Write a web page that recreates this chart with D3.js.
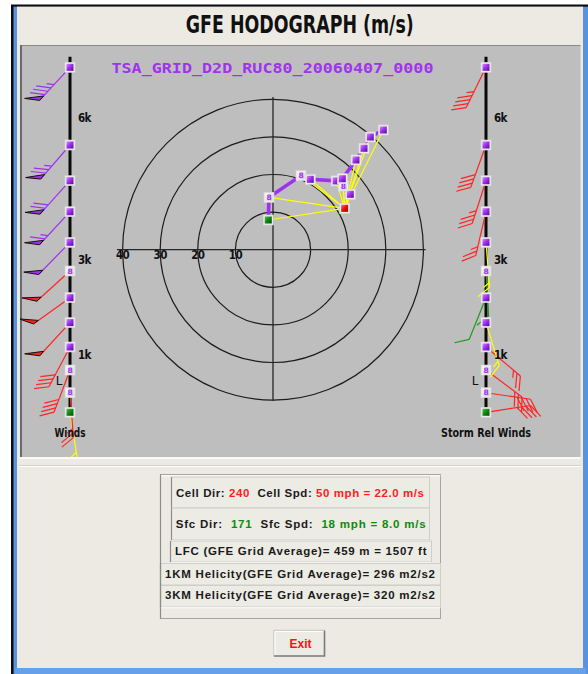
<!DOCTYPE html>
<html><head><meta charset="utf-8">
<script src="https://cdn.jsdelivr.net/npm/d3@7"></script>
<style>html,body{margin:0;padding:0;background:#fff;}svg{display:block;}text{white-space:pre;}</style>
</head><body>
<svg id="chart" width="588" height="674"></svg>
<script>
// ---- sounding data --------------------------------------------------------
const runName = "TSA_GRID_D2D_RUC80_20060407_0000";
// level heights above ground (m); level 0 is the surface
const levelHeights = [0, 413, 892, 1378, 1892, 2418, 2981, 3586, 4232, 4886, 5639, 7278];
const levelKinds = ["sfc", "hgt", "hgt", "prs", "prs", "prs", "hgt", "prs", "prs", "prs", "prs", "prs"];
// wind components (m/s) for the levels above the surface
const windU = [-1.06, 7.45, 9.92, 16.8, 20.56, 18.7, 18.43, 22.07, 24.2, 25.88, 29.34];
const windV = [13.94, 19.7, 18.72, 18.3, 14.73, 16.94, 18.88, 23.86, 26.97, 29.97, 31.84];
// surface wind and cell motion
const sfcDir = 171, sfcSpdMph = 18, sfcSpdMs = 8.0;
const cellDir = 240, cellSpdMph = 50, cellSpdMs = 22.0;
const lfcM = 459, lfcFt = 1507;
const helicity1km = 296, helicity3km = 320;
// hodograph rings (m/s) and height ticks on the wind columns
const ringSpeeds = [10, 20, 30, 40];
const heightTicks = [1000, 3000, 6000];
const heightTickLabels = ["1k", "3k", "6k"];

// ---- helpers -------------------------------------------------------------
const rad = Math.PI / 180;
function uvFromDir(dir, spd) { return [-spd * Math.sin(dir * rad), -spd * Math.cos(dir * rad)]; }
const sfcUV = uvFromDir(sfcDir, sfcSpdMs);
const stormUV = uvFromDir(cellDir, cellSpdMs);
const levels = levelHeights.map((h, i) => ({
  h, kind: levelKinds[i],
  u: i === 0 ? sfcUV[0] : windU[i - 1],
  v: i === 0 ? sfcUV[1] : windV[i - 1]
}));

const svg = d3.select("#chart");
const defs = svg.append("defs");
function grad(id, stops) {
  const g = defs.append("linearGradient").attr("id", id).attr("x1", 0).attr("y1", 0).attr("x2", 1).attr("y2", 1);
  stops.forEach(([o, c]) => g.append("stop").attr("offset", o).attr("stop-color", c));
}
grad("g-prs", [[0, "#d08cff"], [0.45, "#a033f0"], [1, "#5a0aa0"]]);
grad("g-sfc", [[0, "#4cc04c"], [0.45, "#128c12"], [1, "#045004"]]);
grad("g-storm", [[0, "#ff7a7a"], [0.45, "#f01010"], [1, "#9a0000"]]);
grad("g-hgt", [[0, "#ffffff"], [1, "#c8c8c8"]]);
grad("g-bar", [[0, "#7fb4f2"], [1, "#4f86d8"]]);

// ---- window frame --------------------------------------------------------
svg.append("rect").attr("width", 588).attr("height", 674).attr("fill", "#ffffff");
svg.append("rect").attr("x", 11).attr("y", 4.5).attr("width", 577).attr("height", 669.5).attr("fill", "#0d0d0d");
svg.append("rect").attr("x", 13.5).attr("y", 6.7).attr("width", 574.5).attr("height", 667.3).attr("fill", "#5b92e0");
svg.append("rect").attr("x", 17).attr("y", 6.7).attr("width", 566).attr("height", 661.5).attr("fill", "#eceae3");
svg.append("rect").attr("x", 15).attr("y", 668.2).attr("width", 571).attr("height", 5.8).attr("fill", "#67a0ea");

svg.append("text").attr("x", 299.8).attr("y", 32.5).attr("text-anchor", "middle")
  .attr("font-family", "'Liberation Sans Narrow','DejaVu Sans Condensed',sans-serif")
  .attr("font-weight", "bold").attr("font-size", 24).attr("fill", "#111")
  .attr("textLength", 228).attr("lengthAdjust", "spacingAndGlyphs")
  .text("GFE HODOGRAPH (m/s)");

// ---- plotting panel ------------------------------------------------------
const panel = {x: 20, y: 45, w: 560.5, h: 412};
svg.append("rect").attr("x", panel.x).attr("y", panel.y).attr("width", panel.w).attr("height", panel.h).attr("fill", "#bebebe");
svg.append("line").attr("x1", panel.x).attr("x2", panel.x + panel.w).attr("y1", panel.y + 0.5).attr("y2", panel.y + 0.5).attr("stroke", "#8a8a8a");
svg.append("line").attr("x1", panel.x + 1).attr("x2", panel.x + 1).attr("y1", panel.y).attr("y2", panel.y + panel.h).attr("stroke", "#6a6a6a").attr("stroke-width", 2);
svg.append("line").attr("x1", panel.x).attr("x2", panel.x + panel.w).attr("y1", 458).attr("y2", 458).attr("stroke", "#ffffff").attr("stroke-width", 1.5);
svg.append("line").attr("x1", 19).attr("x2", 581).attr("y1", 465.5).attr("y2", 465.5).attr("stroke", "#d2d0c8");
svg.append("line").attr("x1", 19).attr("x2", 581).attr("y1", 466.5).attr("y2", 466.5).attr("stroke", "#ffffff");

defs.append("clipPath").attr("id", "panel-clip").append("rect")
  .attr("x", panel.x).attr("y", panel.y).attr("width", panel.w).attr("height", panel.h);
const plot = svg.append("g").attr("clip-path", "url(#panel-clip)");

plot.append("text").attr("x", 111.5).attr("y", 73.3)
  .attr("font-family", "'DejaVu Sans Mono',monospace").attr("font-weight", "bold").attr("font-size", 14.5)
  .attr("fill", "#a034ec").attr("textLength", 322).attr("lengthAdjust", "spacingAndGlyphs").text(runName);

const labelFont = "'DejaVu Sans Condensed','DejaVu Sans',sans-serif";

// ---- hodograph -----------------------------------------------------------
const cx = 273, cy = 249.7, rMax = 150.4;
const rS = d3.scaleLinear().domain([0, 40]).range([0, rMax]);
const xS = d3.scaleLinear().domain([-40, 40]).range([cx - rMax, cx + rMax]);
const yS = d3.scaleLinear().domain([-40, 40]).range([cy + rMax, cy - rMax]);
const hodo = plot.append("g");

hodo.selectAll("circle.ring").data(ringSpeeds).join("circle").attr("class", "ring")
  .attr("cx", cx).attr("cy", cy).attr("r", d => rS(d))
  .attr("fill", "none").attr("stroke", "#1c1c1c").attr("stroke-width", 1.2);
hodo.append("line").attr("x1", xS(-41.5)).attr("x2", xS(40.6)).attr("y1", cy).attr("y2", cy).attr("stroke", "#262626").attr("stroke-width", 1.3);
hodo.append("line").attr("x1", cx).attr("x2", cx).attr("y1", yS(40.6)).attr("y2", yS(-40.2)).attr("stroke", "#262626").attr("stroke-width", 1.3);
hodo.selectAll("text.ringlab").data(ringSpeeds).join("text").attr("class", "ringlab")
  .attr("x", d => xS(-d)).attr("y", cy + 9.3).attr("text-anchor", "middle")
  .attr("font-family", labelFont).attr("font-weight", "bold").attr("font-size", 11.5)
  .attr("fill", "#111").attr("letter-spacing", -0.6).text(d => d);

hodo.append("path").datum(levels)
  .attr("d", d3.line().x(d => xS(d.u)).y(d => yS(d.v)))
  .attr("fill", "none").attr("stroke", "#a030f0").attr("stroke-width", 3.6)
  .attr("stroke-linejoin", "round").attr("stroke-linecap", "round");
hodo.selectAll("line.sr").data(levels).join("line").attr("class", "sr")
  .attr("x1", xS(stormUV[0])).attr("y1", yS(stormUV[1]))
  .attr("x2", d => xS(d.u)).attr("y2", d => yS(d.v))
  .attr("stroke", "#ffff00").attr("stroke-width", 1.2);

function marker(g, x, y, kind) {
  const s = 10;
  g.append("rect").attr("x", x - s / 2).attr("y", y - s / 2).attr("width", s).attr("height", s)
    .attr("fill", "#ececec").attr("stroke", "#d8d8d8").attr("stroke-width", 0.6);
  const fill = kind === "sfc" ? "url(#g-sfc)" : kind === "storm" ? "url(#g-storm)" : kind === "hgt" ? "url(#g-hgt)" : "url(#g-prs)";
  g.append("rect").attr("x", x - s / 2 + 1.5).attr("y", y - s / 2 + 1.5).attr("width", s - 3).attr("height", s - 3).attr("fill", fill);
  if (kind === "hgt") {
    g.append("text").attr("x", x).attr("y", y + 2.7).attr("text-anchor", "middle")
      .attr("font-family", "'DejaVu Sans',sans-serif").attr("font-weight", "bold").attr("font-size", 7.5)
      .attr("fill", "#a033f0").text("8");
  }
}
levels.forEach(d => marker(hodo, xS(d.u), yS(d.v), d.kind));
marker(hodo, xS(stormUV[0]), yS(stormUV[1]), "storm");

// ---- wind columns --------------------------------------------------------
const hS = d3.scaleLinear().domain([0, 7500]).range([412.3, 56.8]);

function speedColor(kt) {
  if (kt < 12.5) return "#1f9a1f";
  if (kt < 20) return "#ffff00";
  if (kt < 50) return "#ff2424";
  return "#a030f0";
}

function barb(g, x0, y0, u, v) {
  const s = Math.hypot(u, v);
  const kt = s * 1.94384;
  const col = speedColor(kt);
  const dx = -u / s, dy = v / s;               // toward the direction the wind blows from
  const a = 55 * rad;
  const bx = dx * Math.cos(a) - dy * Math.sin(a), by = dx * Math.sin(a) + dy * Math.cos(a);
  const L = 45, bl = 15, sp = 4.5, pw = 6;
  const pt = p => [x0 + p * dx, y0 + p * dy];
  g.append("line").attr("x1", x0).attr("y1", y0).attr("x2", pt(L)[0]).attr("y2", pt(L)[1])
    .attr("stroke", col).attr("stroke-width", 1.2);
  let rem = Math.round(kt / 5) * 5;
  const pen = Math.floor(rem / 50); rem -= pen * 50;
  const full = Math.floor(rem / 10); rem -= full * 10;
  const half = rem >= 5;
  let pos = L;
  for (let i = 0; i < pen; i++) {
    const A = pt(pos), B = pt(pos - pw), C = [A[0] + bx * bl, A[1] + by * bl];
    g.append("path").attr("d", `M${A}L${C}L${B}Z`).attr("fill", col).attr("stroke", "#111").attr("stroke-width", 1);
    pos -= pw + 2;
  }
  for (let i = 0; i < full; i++) {
    const P = pt(pos);
    g.append("line").attr("x1", P[0]).attr("y1", P[1]).attr("x2", P[0] + bx * bl).attr("y2", P[1] + by * bl)
      .attr("stroke", col).attr("stroke-width", 1.2);
    pos -= sp;
  }
  if (half) {
    if (pen === 0 && full === 0) pos -= sp;
    const P = pt(pos);
    g.append("line").attr("x1", P[0]).attr("y1", P[1]).attr("x2", P[0] + bx * bl / 2).attr("y2", P[1] + by * bl / 2)
      .attr("stroke", col).attr("stroke-width", 1.2);
  }
}

function column(x, caption, captionLen, relative) {
  const g = plot.append("g");
  g.append("line").attr("x1", x).attr("x2", x).attr("y1", hS(7500)).attr("y2", hS(100))
    .attr("stroke", "#0a0a0a").attr("stroke-width", 3);
  levels.forEach(d => {
    const u = relative ? d.u - stormUV[0] : d.u;
    const v = relative ? d.v - stormUV[1] : d.v;
    barb(g, x, hS(d.h), u, v);
  });
  levels.forEach(d => marker(g, x, hS(d.h), d.kind));
  g.selectAll("text.hk").data(heightTicks).join("text").attr("class", "hk")
    .attr("x", x + 8).attr("y", d => hS(d) - 10 + 4.3)
    .attr("font-family", labelFont).attr("font-weight", "bold").attr("font-size", 11.5)
    .attr("letter-spacing", -0.6).attr("fill", "#111").text((d, i) => heightTickLabels[i]);
  g.append("text").attr("x", x - 11).attr("y", hS(lfcM) - 10 + 4.5).attr("text-anchor", "middle")
    .attr("font-family", "'DejaVu Sans',sans-serif").attr("font-size", 12).attr("fill", "#111").text("L");
  g.append("text").attr("x", x).attr("y", 436.7).attr("text-anchor", "middle")
    .attr("font-family", labelFont).attr("font-weight", "bold").attr("font-size", 11.5).attr("fill", "#111")
    .attr("textLength", captionLen).attr("lengthAdjust", "spacingAndGlyphs").text(caption);
}
column(70, "Winds", 31, false);
column(486, "Storm Rel Winds", 90, true);

// ---- info table ----------------------------------------------------------
const dark = "#1a1a1a", red = "#ff1c1c", green = "#0c8c0c";
const tbl = svg.append("g");
tbl.append("rect").attr("x", 160.5).attr("y", 474.5).attr("width", 280).attr("height", 144)
  .attr("fill", "none").attr("stroke", "#a4a4a0");
tbl.append("line").attr("x1", 160.5).attr("x2", 440.5).attr("y1", 475.8).attr("y2", 475.8).attr("stroke", "#ffffff");
const rows = [
  {x: 171.5, y: 477, w: 258, h: 31, tx: 176, ty: 496.7, len: 248,
    parts: [["Cell Dir: ", dark], [String(cellDir), red], ["  Cell Spd: ", dark], [`${cellSpdMph} mph = ${cellSpdMs.toFixed(1)} m/s`, red]]},
  {x: 171.5, y: 508, w: 258, h: 32, tx: 175.7, ty: 528.3, len: 250,
    parts: [["Sfc Dir:  ", dark], [String(sfcDir), green], ["  Sfc Spd:  ", dark], [`${sfcSpdMph} mph = ${sfcSpdMs.toFixed(1)} m/s`, green]]},
  {x: 170.5, y: 541, w: 261, h: 21, tx: 175, ty: 554.8, len: 251.5,
    parts: [[`LFC (GFE Grid Average)= ${lfcM} m = ${lfcFt} ft`, dark]]},
  {x: 160.5, y: 563.5, w: 280, h: 21.5, tx: 165, ty: 577.7, len: 270,
    parts: [[`1KM Helicity(GFE Grid Average)= ${helicity1km} m2/s2`, dark]]},
  {x: 160.5, y: 585.5, w: 280, h: 21.5, tx: 165, ty: 599.3, len: 270,
    parts: [[`3KM Helicity(GFE Grid Average)= ${helicity3km} m2/s2`, dark]]}
];
rows.forEach(r => {
  tbl.append("rect").attr("x", r.x).attr("y", r.y).attr("width", r.w).attr("height", r.h)
    .attr("fill", "#ecebe4").attr("stroke", "#cfcec8");
  tbl.append("line").attr("x1", r.x).attr("x2", r.x).attr("y1", r.y).attr("y2", r.y + r.h).attr("stroke", "#8c8c88").attr("stroke-width", 1.2);
  tbl.append("line").attr("x1", r.x).attr("x2", r.x + r.w).attr("y1", r.y + r.h + 0.8).attr("y2", r.y + r.h + 0.8).attr("stroke", "#ffffff");
  const t = tbl.append("text").attr("x", r.tx).attr("y", r.ty)
    .attr("font-family", "'Liberation Sans',Arial,sans-serif").attr("font-weight", "bold").attr("font-size", 11.5)
    .attr("textLength", r.len).attr("lengthAdjust", "spacing");
  r.parts.forEach(([s, c]) => t.append("tspan").attr("fill", c).text(s));
});
tbl.append("line").attr("x1", 160.5).attr("x2", 160.5).attr("y1", 474.5).attr("y2", 618.5).attr("stroke", "#8c8c88").attr("stroke-width", 1.2);

// ---- exit button ---------------------------------------------------------
const btn = svg.append("g");
btn.append("rect").attr("x", 273.5).attr("y", 630).attr("width", 51.5).attr("height", 26.5).attr("fill", "#ecebe4");
btn.append("path").attr("d", "M273.8,656.5V630.3H325").attr("fill", "none").attr("stroke", "#c6c5bf").attr("stroke-width", 1);
btn.append("path").attr("d", "M275,655.3V631.5H323.8").attr("fill", "none").attr("stroke", "#ffffff").attr("stroke-width", 1);
btn.append("path").attr("d", "M274,656H324.5V630.5").attr("fill", "none").attr("stroke", "#7a7a78").attr("stroke-width", 1.6);
btn.append("text").attr("x", 300.5).attr("y", 647.7).attr("text-anchor", "middle")
  .attr("font-family", "'Liberation Sans',Arial,sans-serif").attr("font-weight", "bold").attr("font-size", 12)
  .attr("fill", "#ff1010").text("Exit");
</script>
</body></html>
